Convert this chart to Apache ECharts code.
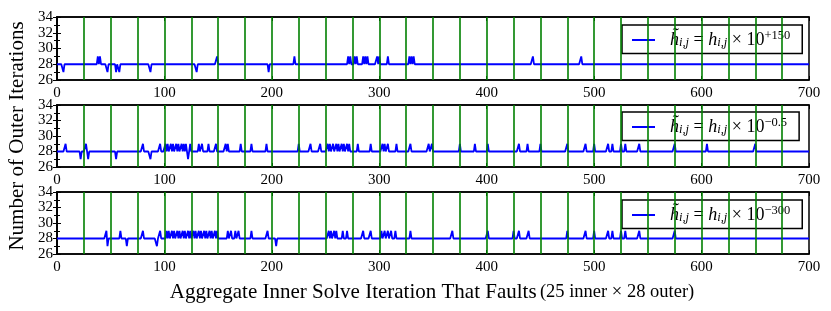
<!DOCTYPE html>
<html>
<head>
<meta charset="utf-8">
<script src="https://cdn.jsdelivr.net/npm/echarts@6/dist/echarts.min.js"></script>
<style>html,body{margin:0;padding:0;background:#fff}#c{width:831px;height:311px}</style>
</head>
<body>
<div id="c"></div>
<script>
// ---- data ----
const xMin = 0, xMax = 700, xStep = 100;
const yMin = 26, yMax = 34, yStep = 2;
const faultBoundaries = [25, 50, 75, 100, 125, 150, 175, 200, 225, 250, 275, 300, 325, 350, 375, 400, 425, 450, 475, 500, 525, 550, 575, 600, 625, 650, 675];
const baselineIters = 28;
// panel 1: h~ = h x 10^+150
const p1Up29 = [38, 40, 149, 221, 271, 273, 277, 279, 285, 287, 289, 298, 300, 308, 328, 330, 332, 443, 488];
const p1Down27 = [6, 47, 55, 58, 87, 130, 197];
// panel 2: h~ = h x 10^-0.5
const p2Up29 = [8, 27, 80, 96, 101, 103, 106, 108, 111, 113, 116, 118, 120, 124, 132, 135, 141, 148, 157, 159, 171, 181, 195, 225, 236, 245, 252, 254, 257, 260, 262, 265, 267, 270, 272, 280, 292, 303, 305, 308, 316, 329, 346, 349, 375, 389, 401, 430, 438, 450, 475, 492, 500, 513, 517, 525, 529, 542, 575, 605, 650];
const p2Down27 = [22, 29, 55, 87, 122];
// panel 3: h~ = h x 10^-300
const p3Up29 = [46, 59, 80, 96, 102, 104, 107, 109, 112, 114, 117, 119, 122, 124, 127, 129, 132, 134, 137, 139, 142, 144, 147, 149, 159, 162, 166, 169, 181, 196, 253, 255, 258, 260, 266, 270, 285, 292, 302, 305, 308, 311, 315, 329, 368, 401, 425, 430, 439, 475, 492, 500, 513, 517, 525, 529, 542, 575];
const p3Down27 = [47, 65, 93, 204];
const exponents = ['+150', '\u22120.5', '\u2212300'];

function buildSeries(up, down) {
  const d = [];
  for (let x = xMin; x <= xMax; x++) {
    let v = baselineIters;
    if (up.includes(x)) v = 29;
    else if (down.includes(x)) v = 27;
    d.push([x, v]);
  }
  return d;
}
const panels = [
  buildSeries(p1Up29, p1Down27),
  buildSeries(p2Up29, p2Down27),
  buildSeries(p3Up29, p3Down27)
];

// ---- layout ----
const FONT = 'Liberation Serif';
const grids = [
  {left: 57, top: 17, width: 752, height: 63},
  {left: 57, top: 105, width: 752, height: 62},
  {left: 57, top: 192, width: 752, height: 62}
];
const legendTops = [25, 112, 200];

const rich = {
  i: {fontFamily: FONT, fontStyle: 'italic', fontSize: 18, color: '#000'},
  n: {fontFamily: FONT, fontSize: 18, color: '#000'},
  sub: {fontFamily: FONT, fontStyle: 'italic', fontSize: 12.5, color: '#000', padding: [6, 0, 0, 0]},
  sup: {fontFamily: FONT, fontSize: 12.5, color: '#000', padding: [0, 0, 9, 0]}
};

const option = {
  animation: false,
  backgroundColor: '#fff',
  grid: grids.map(g => Object.assign({show: true, borderColor: '#000', borderWidth: 1.5, backgroundColor: '#fff'}, g)),
  xAxis: [],
  yAxis: [],
  series: [],
  legend: [],
  graphic: [
    {type: 'text', x: 17, y: 136, rotation: Math.PI / 2,
     style: {text: 'Number of Outer Iterations', font: '21px "' + FONT + '"', fill: '#000', align: 'center', verticalAlign: 'middle'}},
    {type: 'text', x: 432, y: 292,
     style: {text: '{a|Aggregate Inner Solve Iteration That Faults} {b|(25 inner \u00d7 28 outer)}', align: 'center', verticalAlign: 'middle',
       rich: {a: {fontFamily: FONT, fontSize: 21, fill: '#000'}, b: {fontFamily: FONT, fontSize: 18.5, fill: '#000'}}}}
  ]
};

for (let k = 0; k < 3; k++) {
  option.xAxis.push({
    type: 'value', gridIndex: k, min: xMin, max: xMax, interval: xStep,
    axisLine: {show: true, lineStyle: {color: '#000', width: 1.5}},
    axisTick: {show: true, inside: true, length: 4, lineStyle: {color: '#000'}},
    axisLabel: {show: true, fontFamily: FONT, fontSize: 15, color: '#000', margin: 6},
    splitLine: {show: false}
  });
  option.xAxis.push({
    type: 'value', gridIndex: k, min: xMin, max: xMax, interval: xStep, position: 'top',
    axisLine: {show: true, lineStyle: {color: '#000', width: 1.5}},
    axisTick: {show: true, inside: true, length: 4, lineStyle: {color: '#000'}},
    axisLabel: {show: false}, splitLine: {show: false}
  });
  option.yAxis.push({
    type: 'value', gridIndex: k, min: yMin, max: yMax, interval: yStep,
    axisLine: {show: true, lineStyle: {color: '#000', width: 1.5}},
    axisTick: {show: true, inside: true, length: 4, lineStyle: {color: '#000'}},
    minorTick: {show: true, splitNumber: 2, length: 3, lineStyle: {color: '#000'}},
    axisLabel: {show: true, fontFamily: FONT, fontSize: 15, color: '#000', margin: 4},
    splitLine: {show: false}
  });
  option.yAxis.push({
    type: 'value', gridIndex: k, min: yMin, max: yMax, interval: yStep, position: 'right',
    axisLine: {show: true, lineStyle: {color: '#000', width: 1.5}},
    axisTick: {show: true, inside: true, length: 4, lineStyle: {color: '#000'}},
    minorTick: {show: true, splitNumber: 2, length: 3, lineStyle: {color: '#000'}},
    axisLabel: {show: false}, splitLine: {show: false}
  });
  const name = 'h' + k;
  option.series.push({
    name: name, type: 'line', xAxisIndex: 2 * k, yAxisIndex: 2 * k,
    data: panels[k], showSymbol: false, symbol: 'none',
    lineStyle: {color: '#0000ff', width: 1.8}, itemStyle: {color: '#0000ff'},
    markLine: {silent: true, symbol: 'none', label: {show: false},
      lineStyle: {color: '#008000', width: 1.6, type: 'solid'},
      data: faultBoundaries.map(v => ({xAxis: v}))}
  });
  option.legend.push({
    data: [name], left: 622, top: legendTops[k],
    backgroundColor: '#fff', borderColor: '#000', borderWidth: 1.5, borderRadius: 0,
    padding: [4, 12, 4, 10], itemWidth: 23, itemHeight: 2, icon: 'rect',
    formatter: () => '{i|h\u0303}{sub|i,j}{n| = }{i|h}{sub|i,j}{n| \u00d7 10}{sup|' + exponents[k] + '}',
    textStyle: {padding: [0, 0, 0, 10], rich: rich}
  });
}

const chart = echarts.init(document.getElementById('c'), null, {renderer: 'canvas'});
chart.setOption(option);
</script>
</body>
</html>
